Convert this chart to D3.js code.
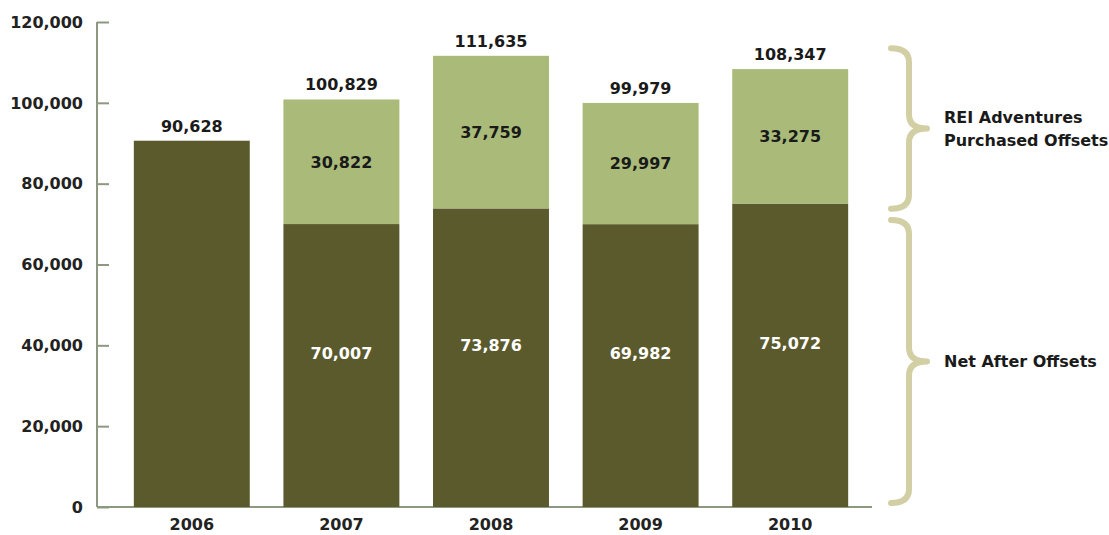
<!DOCTYPE html>
<html>
<head>
<meta charset="utf-8">
<script src="https://cdn.jsdelivr.net/npm/d3@7.9.0/dist/d3.min.js"></script>
<style>
  body { margin: 0; background: #fff; }
  svg text { font-family: "DejaVu Sans", sans-serif; font-weight: bold; }
</style>
</head>
<body>
<svg id="chart" width="1109" height="535"></svg>
<script>
const years = ['2006', '2007', '2008', '2009', '2010'];
const netAfter = [90628, 70007, 73876, 69982, 75072];
const purchased = [0, 30822, 37759, 29997, 33275];
const totals = [90628, 100829, 111635, 99979, 108347];
const yTicks = [0, 20000, 40000, 60000, 80000, 100000, 120000];
const legendLabels = [['REI Adventures', 'Purchased Offsets'], ['Net After Offsets']];
// brace spans in data units: [top, bottom]
const braceSpans = [[113500, 73800], [71000, 1000]];

const dark = '#5b5a2d', light = '#a9ba79', axisCol = '#8d9880', braceCol = '#d3cfa4';

const svg = d3.select('#chart');
const x = d3.scaleBand().domain(years).range([117, 865]).paddingInner(0.225).paddingOuter(0.1125);
const y = d3.scaleLinear().domain([0, 120000]).range([507, 22]);

// y axis, ticks point inward
const yAxis = svg.append('g').attr('transform', 'translate(97,0)')
  .call(d3.axisRight(y).tickValues(yTicks).tickSize(12).tickFormat(''));
yAxis.select('.domain').remove();
yAxis.selectAll('line').attr('stroke', axisCol).attr('stroke-width', 2);
svg.append('line').attr('x1', 97).attr('x2', 97).attr('y1', y(120000)).attr('y2', y(0))
  .attr('stroke', axisCol).attr('stroke-width', 2);
svg.selectAll('.ylab').data(yTicks).join('text')
  .attr('x', 83).attr('y', d => y(d)).attr('dy', '0.36em')
  .attr('text-anchor', 'end').attr('font-size', 16).attr('fill', '#222')
  .text(d => d3.format(',')(d));

// x axis
svg.append('line').attr('x1', 97).attr('x2', 872).attr('y1', y(0)).attr('y2', y(0))
  .attr('stroke', axisCol).attr('stroke-width', 2);
svg.selectAll('.xlab').data(years).join('text')
  .attr('x', d => x(d) + x.bandwidth() / 2).attr('y', 530)
  .attr('text-anchor', 'middle').attr('font-size', 16).attr('fill', '#222')
  .text(d => d);

// bars
svg.selectAll('.net').data(years).join('rect')
  .attr('x', d => x(d)).attr('width', x.bandwidth())
  .attr('y', (d, i) => y(netAfter[i])).attr('height', (d, i) => y(0) - y(netAfter[i]))
  .attr('fill', dark);
svg.selectAll('.pur').data(years.filter((d, i) => purchased[i] > 0)).join('rect')
  .attr('x', d => x(d)).attr('width', x.bandwidth())
  .attr('y', d => { const i = years.indexOf(d); return y(netAfter[i] + purchased[i]); })
  .attr('height', d => { const i = years.indexOf(d); return y(netAfter[i]) - y(netAfter[i] + purchased[i]); })
  .attr('fill', light);

const fmt = d3.format(',');
// total labels
svg.selectAll('.tot').data(years).join('text')
  .attr('x', d => x(d) + x.bandwidth() / 2)
  .attr('y', (d, i) => y(netAfter[i] + purchased[i]) - 9)
  .attr('text-anchor', 'middle').attr('font-size', 16).attr('fill', '#1a1a1a')
  .text((d, i) => fmt(totals[i]));
// segment labels
years.forEach((d, i) => {
  if (purchased[i] === 0) return;
  const cx = x(d) + x.bandwidth() / 2;
  svg.append('text').attr('x', cx)
    .attr('y', (y(netAfter[i]) + y(netAfter[i] + purchased[i])) / 2).attr('dy', '0.36em')
    .attr('text-anchor', 'middle').attr('font-size', 16).attr('fill', '#1a1a1a')
    .text(fmt(purchased[i]));
  svg.append('text').attr('x', cx)
    .attr('y', (y(0) + y(netAfter[i])) / 2 - 12).attr('dy', '0.36em')
    .attr('text-anchor', 'middle').attr('font-size', 16).attr('fill', '#fff')
    .text(fmt(netAfter[i]));
});

// braces
function bracePath(bx, y0, y1, w) {
  const ym = (y0 + y1) / 2, h = w / 2, r = 14;
  return `M${bx},${y0} Q${bx + h},${y0} ${bx + h},${y0 + r} L${bx + h},${ym - r} ` +
    `Q${bx + h},${ym} ${bx + w},${ym} Q${bx + h},${ym} ${bx + h},${ym + r} ` +
    `L${bx + h},${y1 - r} Q${bx + h},${y1} ${bx},${y1}`;
}
braceSpans.forEach((s, k) => {
  const y0 = y(s[0]), y1 = y(s[1]);
  svg.append('path').attr('d', bracePath(891, y0, y1, 36))
    .attr('fill', 'none').attr('stroke', braceCol).attr('stroke-width', 6)
    .attr('stroke-linecap', 'round').attr('stroke-linejoin', 'round');
  const lines = legendLabels[k];
  const ym = (y0 + y1) / 2;
  lines.forEach((t, j) => {
    svg.append('text').attr('x', 944)
      .attr('y', ym + (j - (lines.length - 1) / 2) * 23).attr('dy', '0.36em')
      .attr('font-size', 16).attr('fill', '#1a1a1a').text(t);
  });
});
</script>
</body>
</html>
